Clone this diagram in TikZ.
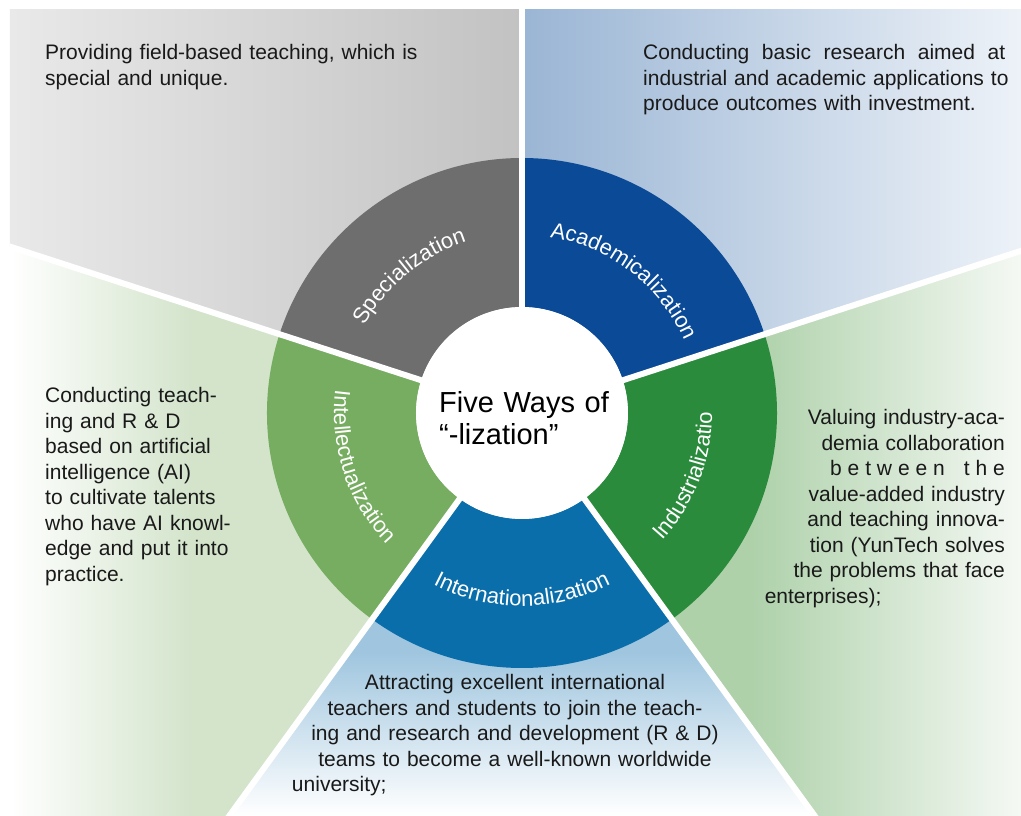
\documentclass[tikz,border=0pt]{standalone}
\usepackage{fontspec}
\setmainfont{Liberation Sans}
\usetikzlibrary{decorations.text}

\definecolor{specgray}{HTML}{6E6E6E}
\definecolor{acadblue}{HTML}{0B4A97}
\definecolor{indugreen}{HTML}{2B8B3C}
\definecolor{intlblue}{HTML}{0A6EAA}
\definecolor{intelgreen}{HTML}{77AD61}
\definecolor{grayL}{HTML}{E9E9E9}
\definecolor{grayR}{HTML}{C2C2C2}
\definecolor{blueL}{HTML}{9AB5D4}
\definecolor{blueR}{HTML}{EDF2F8}
\definecolor{greenL}{HTML}{AED1AA}
\definecolor{greenR}{HTML}{F5F9F4}
\definecolor{skyT}{HTML}{A0C6DF}
\definecolor{paleG}{HTML}{D3E4CB}

\newcommand{\labelfont}{\fontsize{22}{24}\selectfont}
\newcommand{\spreadline}[1]{\makebox[362pt][s]{\spaceskip=.3333em plus 1fil #1}} % justified line

\tikzset{
x=1pt, y=1pt, % one unit is one pixel of the layout
desc/.style={font=\fontsize{21}{25.5}\selectfont, inner sep=0pt, text=black!90}, % the explanations round the wheel
title/.style={font=\fontsize{29}{32}\selectfont, text width=180pt, align=left, inner sep=0pt}, % text in the middle
hub/.style={circle, fill=white, minimum size=212pt, inner sep=0pt}, % white middle of the wheel
gap/.style={white, line width=6pt}, % white spokes between the sectors
ringlabel/.style={decorate, decoration={text along path, text align=center, text color=white, text={|\labelfont|#1}}}, % names on the ring
}

\begin{document}
\begin{tikzpicture}
\path[use as bounding box, fill=white] (-522,-403) rectangle (499,413);
\begin{scope}
    \clip (-512,-403) rectangle (499,403);
    % background wedges
    \begin{scope}
        \clip (0,0) -- (90:1000) -- (162:1000) -- cycle;
        \shade[left color=grayL, right color=grayR] (-512,0) rectangle (0,403);
    \end{scope}
    \begin{scope}
        \clip (0,0) -- (18:1000) -- (90:1000) -- cycle;
        \shade[left color=blueL, right color=blueR] (0,0) rectangle (499,403);
    \end{scope}
    \begin{scope}
        \clip (0,0) -- (-54:1000) -- (18:1000) -- cycle;
        \fill[greenL] (0,-403) rectangle (499,170);
        \shade[left color=greenL, right color=greenR] (230,-403) rectangle (499,170);
    \end{scope}
    \begin{scope}
        \clip (0,0) -- (234:1000) -- (306:1000) -- cycle;
        \shade[top color=skyT, bottom color=white] (-300,-403) rectangle (300,-240);
        \fill[skyT] (-300,-240) rectangle (300,0);
    \end{scope}
    \begin{scope}
        \clip (0,0) -- (162:1000) -- (234:1000) -- cycle;
        \fill[paleG] (-512,-403) rectangle (0,170);
        \shade[left color=white, right color=paleG] (-512,-403) rectangle (-330,170);
    \end{scope}
    % the ring
    \foreach \a/\b/\c in {90/162/specgray, 18/90/acadblue, -54/18/indugreen, 234/306/intlblue, 162/234/intelgreen}
        \fill[\c] (\a:255) arc[start angle=\a, end angle=\b, radius=255] -- (\b:106) arc[start angle=\b, end angle=\a, radius=106] -- cycle;
    \foreach \a in {18,90,162,234,306}
        \draw[gap] (0,0) -- (\a:1000);
\end{scope}

\node[hub] (hub) at (0,0) {};
\node[title, anchor=base west] (title) at (-83,0) {Five Ways of\\“-lization”};

\path[ringlabel=Specialization] (160:180) arc[start angle=160, end angle=99, radius=180];
\path[ringlabel=Academicalization] (85:178) arc[start angle=85, end angle=20, radius=178];
\path[ringlabel=Industrializatio] (-56:190) arc[start angle=-56, end angle=14, radius=190];
\path[ringlabel=Internationalization] (232:193) arc[start angle=232, end angle=308, radius=193];
\path[ringlabel=Intellectualization] (160:188) arc[start angle=160, end angle=237, radius=188];

\node[desc, text width=400pt, align=left, anchor=base west] (specText) at (-477,353) {Providing field-based teaching, which is\\special and unique.};
\node[desc, text width=362pt, align=left, anchor=base west] (acadText) at (121,353) {\spreadline{Conducting basic research aimed at}\\\spreadline{industrial and academic applications to}\\produce outcomes with investment.};
\node[desc, text width=220pt, align=left, anchor=base west] (intelText) at (-477,10) {Conducting teach-\\ing and R \& D\\based on artificial\\intelligence (AI)\\to cultivate talents\\who have AI knowl-\\edge and put it into\\practice.};
\node[desc, text width=240pt, align=right, anchor=base east] (induText) at (483,-12) {Valuing industry-aca-\\demia collaboration\\{\addfontfeatures{LetterSpace=28}between\hspace{12pt} the}\\value-added industry\\and teaching innova-\\tion (YunTech solves\\the problems that face\\enterprises);\hfill\null};
\node[desc, text width=446pt, align=center, anchor=base] (intlText) at (-7,-277) {Attracting excellent international\\teachers and students to join the teach-\\ing and research and development (R \& D)\\teams to become a well-known worldwide\\university;\hfill\null};
\end{tikzpicture}
\end{document}
